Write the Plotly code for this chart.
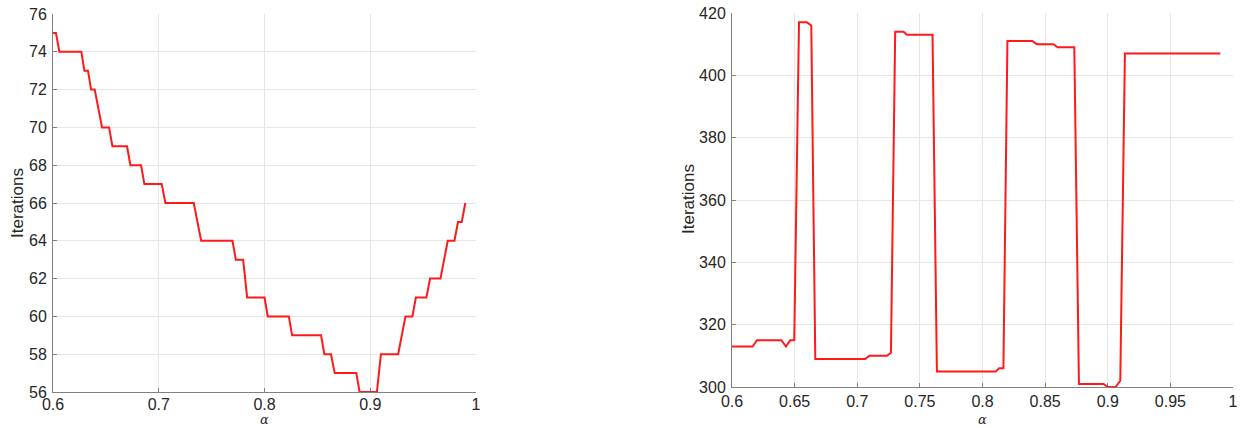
import plotly.graph_objects as go

# ---- data ----
left_alpha = [0.6, 0.6028, 0.6060, 0.6268, 0.6297, 0.6331, 0.6360, 0.6394, 0.6464, 0.6530,
              0.6562, 0.6700, 0.6732, 0.6833, 0.6864, 0.7028, 0.7063, 0.7331, 0.7401, 0.7697,
              0.7729, 0.7798, 0.7836, 0.8000, 0.8031, 0.8230, 0.8261, 0.8535, 0.8566, 0.8629,
              0.8664, 0.8868, 0.8899, 0.9063, 0.9101, 0.9264, 0.9333, 0.9399, 0.9431, 0.9531,
              0.9566, 0.9664, 0.9733, 0.9796, 0.9830, 0.9865, 0.9899]
left_iter = [75, 75, 74, 74, 73, 73, 72, 72, 70, 70,
             69, 69, 68, 68, 67, 67, 66, 66, 64, 64,
             63, 63, 61, 61, 60, 60, 59, 59, 58, 58,
             57, 57, 56, 56, 58, 58, 60, 60, 61, 61,
             62, 62, 64, 64, 65, 65, 66]

right_alpha = [0.6, 0.6165, 0.6199, 0.6394, 0.6431, 0.6465, 0.6497, 0.6535, 0.6598, 0.6633,
               0.6665, 0.7064, 0.7096, 0.7237, 0.7269, 0.7303, 0.7370, 0.7396, 0.7601, 0.7636,
               0.8106, 0.8133, 0.8167, 0.8199, 0.8398, 0.8433, 0.8566, 0.8600, 0.8733, 0.8770,
               0.8967, 0.8999, 0.9062, 0.9100, 0.9137, 0.9899]
right_iter = [313, 313, 315, 315, 313, 315, 315, 417, 417, 416,
              309, 309, 310, 310, 311, 414, 414, 413, 413, 305,
              305, 306, 306, 411, 411, 410, 410, 409, 409, 301,
              301, 300, 300, 302, 407, 407]

left_yticks = [56, 58, 60, 62, 64, 66, 68, 70, 72, 74, 76]
left_xticks = [0.6, 0.7, 0.8, 0.9, 1.0]
right_yticks = [300, 320, 340, 360, 380, 400, 420]
right_xticks = [0.6, 0.65, 0.7, 0.75, 0.8, 0.85, 0.9, 0.95, 1.0]

x_title = "α"
y_title = "Iterations"

# ---- styling ----
W, H = 1240, 428
RED = "rgb(255,25,25)"
TXT = "#262626"
GRID = "#e6e6e6"
AX = "#808080"
FONT = "Liberation Sans, Arial, sans-serif"

fig = go.Figure()
fig.add_trace(go.Scatter(x=left_alpha, y=left_iter, mode="lines",
                         line=dict(color=RED, width=2), xaxis="x", yaxis="y",
                         showlegend=False))
fig.add_trace(go.Scatter(x=right_alpha, y=right_iter, mode="lines",
                         line=dict(color=RED, width=2), xaxis="x2", yaxis="y2",
                         showlegend=False))

L_x = [53 / W, 476 / W]
L_y = [1 - 392 / H, 1 - 14 / H]
R_x = [732 / W, 1233 / W]
R_y = [1 - 387 / H, 1 - 13 / H]

common_axis = dict(
    showgrid=True, gridcolor=GRID, gridwidth=1,
    showline=True, linecolor=AX, linewidth=1,
    ticks="inside", ticklen=4, tickcolor=AX, tickwidth=1,
    zeroline=False, layer="below traces", automargin=False,
    tickfont=dict(family=FONT, size=16, color=TXT),
)

fig.update_layout(
    template="none",
    width=W, height=H,
    margin=dict(l=0, r=0, t=0, b=0, pad=0),
    paper_bgcolor="white", plot_bgcolor="white",
    xaxis=dict(domain=L_x, range=[0.6, 1.0], tickvals=left_xticks,
               ticktext=[f"{v:g}" for v in left_xticks], anchor="y",
               ticklabelstandoff=-2, **common_axis),
    yaxis=dict(domain=L_y, range=[56, 76], tickvals=left_yticks, anchor="x",
               ticklabelstandoff=2, **common_axis),
    xaxis2=dict(domain=R_x, range=[0.6, 1.0], tickvals=right_xticks,
                ticktext=[f"{v:g}" for v in right_xticks], anchor="y2", **common_axis),
    yaxis2=dict(domain=R_y, range=[300, 420], tickvals=right_yticks, anchor="x2",
                ticklabelstandoff=2, **common_axis),
)

ann_font = dict(family=FONT, size=17, color=TXT)
alpha_font = dict(family="DejaVu Serif, Liberation Serif, serif", size=13, color=TXT)
fig.add_annotation(x=17 / W, y=1 - 203 / H, xref="paper", yref="paper", text=y_title,
                   textangle=-90, showarrow=False, font=ann_font, xanchor="center", yanchor="middle")
fig.add_annotation(x=688 / W, y=1 - 199 / H, xref="paper", yref="paper", text=y_title,
                   textangle=-90, showarrow=False, font=ann_font, xanchor="center", yanchor="middle")
fig.add_annotation(x=264.5 / W, y=0, xref="paper", yref="paper", text=f"<i>{x_title}</i>",
                   showarrow=False, font=alpha_font, xanchor="center", yanchor="bottom",
                   borderpad=0)
fig.add_annotation(x=982.5 / W, y=0, xref="paper", yref="paper", text=f"<i>{x_title}</i>",
                   showarrow=False, font=alpha_font, xanchor="center", yanchor="bottom",
                   borderpad=0)

fig.write_html(
    "out.html",
    config={"displayModeBar": False},
    post_script="document.body.style.margin='0';document.body.style.overflow='hidden';",
)
